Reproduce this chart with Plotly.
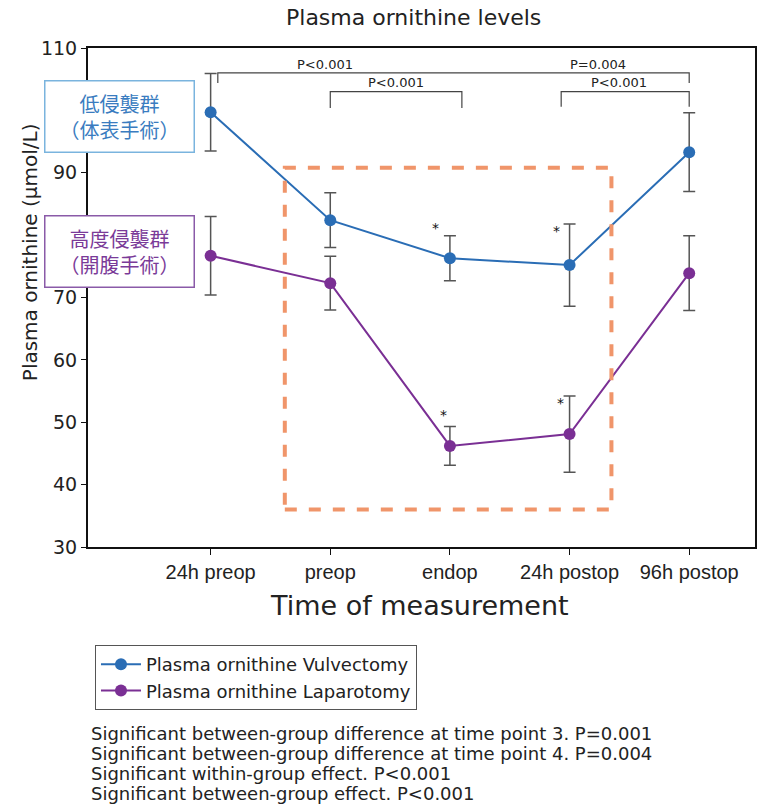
import plotly.graph_objects as go

categories = ["24h preop", "preop", "endop", "24h postop", "96h postop"]
vulv_mean = [99.7, 82.4, 76.3, 75.2, 93.3]
vulv_err = [6.2, 4.4, 3.6, 6.6, 6.3]
lap_mean = [76.7, 72.3, 46.2, 48.1, 73.9]
lap_err = [6.3, 4.3, 3.1, 6.1, 6.0]
y_ticks = [30, 40, 50, 60, 70, 80, 90, 100, 110]
# 80 and 100 are hidden behind the group boxes in the original
y_tick_labels = ["30", "40", "50", "60", "70", "", "90", "", "110"]
footnotes = [
    "Significant between-group difference at time point 3. P=0.001",
    "Significant between-group difference at time point 4. P=0.004",
    "Significant within-group effect. P<0.001",
    "Significant between-group effect. P<0.001",
]
# brackets: (x0, x1, y_top, y_leg_left, y_leg_right)
brackets = [
    (0.06, 4.0, 106.0, 104.4, 104.4),
    (1.0, 2.1, 103.0, 100.4, 100.4),
    (2.93, 4.0, 103.0, 100.6, 100.6),
]
p_labels = [("P<0.001", 0.96, 107.4), ("P=0.004", 3.24, 107.4),
            ("P<0.001", 1.55, 104.4), ("P<0.001", 3.41, 104.4)]
stars = [(1.88, 81.2), (2.89, 80.6), (1.95, 51.1), (2.925, 53.1)]

x = list(range(len(categories)))
BLUE = "#2a6db5"
PURPLE = "#7a2f94"
FONT = "DejaVu Sans"

L, R, T, B = 88, 757, 48, 547


def px(xp):
    return (xp - L) / (R - L)


def py(yp):
    return (B - yp) / (B - T)


fig = go.Figure()
fig.add_trace(go.Scatter(
    x=x, y=vulv_mean, mode="lines+markers", name="Plasma ornithine Vulvectomy",
    line=dict(color=BLUE, width=2), marker=dict(color=BLUE, size=12),
    error_y=dict(type="data", array=vulv_err, color="#555555", thickness=1.5, width=6),
))
fig.add_trace(go.Scatter(
    x=x, y=lap_mean, mode="lines+markers", name="Plasma ornithine Laparotomy",
    line=dict(color=PURPLE, width=2), marker=dict(color=PURPLE, size=12),
    error_y=dict(type="data", array=lap_err, color="#555555", thickness=1.5, width=6),
))

for x0, x1, yt, yl, yr in brackets:
    fig.add_shape(type="path", xref="x", yref="y",
                  path=f"M {x0} {yl} L {x0} {yt} L {x1} {yt} L {x1} {yr}",
                  line=dict(color="#444444", width=1.2))

fig.add_shape(type="rect", xref="x", yref="y", x0=0.62, x1=3.35, y0=36.0, y1=90.8,
              line=dict(color="#f0956a", width=4, dash="dash"), fillcolor="rgba(0,0,0,0)")

ann = []
for t, xx, yy in p_labels:
    ann.append(dict(x=xx, y=yy, xref="x", yref="y", text=t, showarrow=False,
                    font=dict(family=FONT, size=13, color="#222222")))
for sx, sy in stars:
    ann.append(dict(x=sx, y=sy, xref="x", yref="y", text="*", showarrow=False,
                    font=dict(family=FONT, size=14, color="#111111")))

ann.append(dict(x=px(120), y=py(116), xref="paper", yref="paper",
                text="低侵襲群<br>（体表手術）", showarrow=False,
                font=dict(family="Noto Sans CJK JP", size=20, color="#3a7cc0"),
                bgcolor="white", bordercolor="#7ab4de", borderwidth=1.5, borderpad=4,
                width=140, height=62, xanchor="center", yanchor="middle", align="center"))
ann.append(dict(x=px(120), y=py(252), xref="paper", yref="paper",
                text="高度侵襲群<br>（開腹手術）", showarrow=False,
                font=dict(family="Noto Sans CJK JP", size=20, color="#7a3a98"),
                bgcolor="white", bordercolor="#8a5aa8", borderwidth=1.5, borderpad=4,
                width=140, height=62, xanchor="center", yanchor="middle", align="center"))

ann.append(dict(x=px(414), y=py(18), xref="paper", yref="paper",
                text="Plasma ornithine levels", showarrow=False,
                font=dict(family=FONT, size=22, color="#222222"), yanchor="middle"))
ann.append(dict(x=px(420), y=py(605), xref="paper", yref="paper",
                text="Time of measurement", showarrow=False,
                font=dict(family=FONT, size=27, color="#222222"), yanchor="middle"))
ann.append(dict(x=px(30), y=py(252), xref="paper", yref="paper",
                text="Plasma ornithine (µmol/L)", showarrow=False, textangle=-90,
                font=dict(family=FONT, size=20, color="#222222"),
                xanchor="center", yanchor="middle"))
for i, line in enumerate(footnotes):
    ann.append(dict(x=px(89), y=py(733 + 20 * i), xref="paper", yref="paper",
                    text=line, showarrow=False, xanchor="left", yanchor="middle",
                    font=dict(family=FONT, size=18, color="#222222")))

fig.update_layout(
    width=759, height=809,
    margin=dict(l=L, r=759 - R, t=T, b=809 - B),
    paper_bgcolor="white", plot_bgcolor="white",
    showlegend=True,
    legend=dict(x=px(95), y=py(645), xanchor="left", yanchor="top",
                bordercolor="#555555", borderwidth=1, bgcolor="white",
                font=dict(family=FONT, size=18, color="#222222"),
                tracegroupgap=0, itemwidth=40),
    annotations=ann,
    xaxis=dict(range=[-1.025, 4.55], tickvals=x, ticktext=categories,
               showgrid=False, zeroline=False, showline=True, linecolor="#111111",
               linewidth=2, mirror=True, ticks="outside", ticklen=6, tickcolor="#111111",
               tickfont=dict(family="Liberation Sans", size=20, color="#222222")),
    yaxis=dict(range=[30, 110], tickvals=y_ticks, ticktext=y_tick_labels,
               showgrid=False, zeroline=False,
               showline=True, linecolor="#111111", linewidth=2, mirror=True,
               ticks="outside", ticklen=5, tickcolor="#111111",
               tickfont=dict(family=FONT, size=19, color="#222222")),
)

fig.write_html("out.html")
